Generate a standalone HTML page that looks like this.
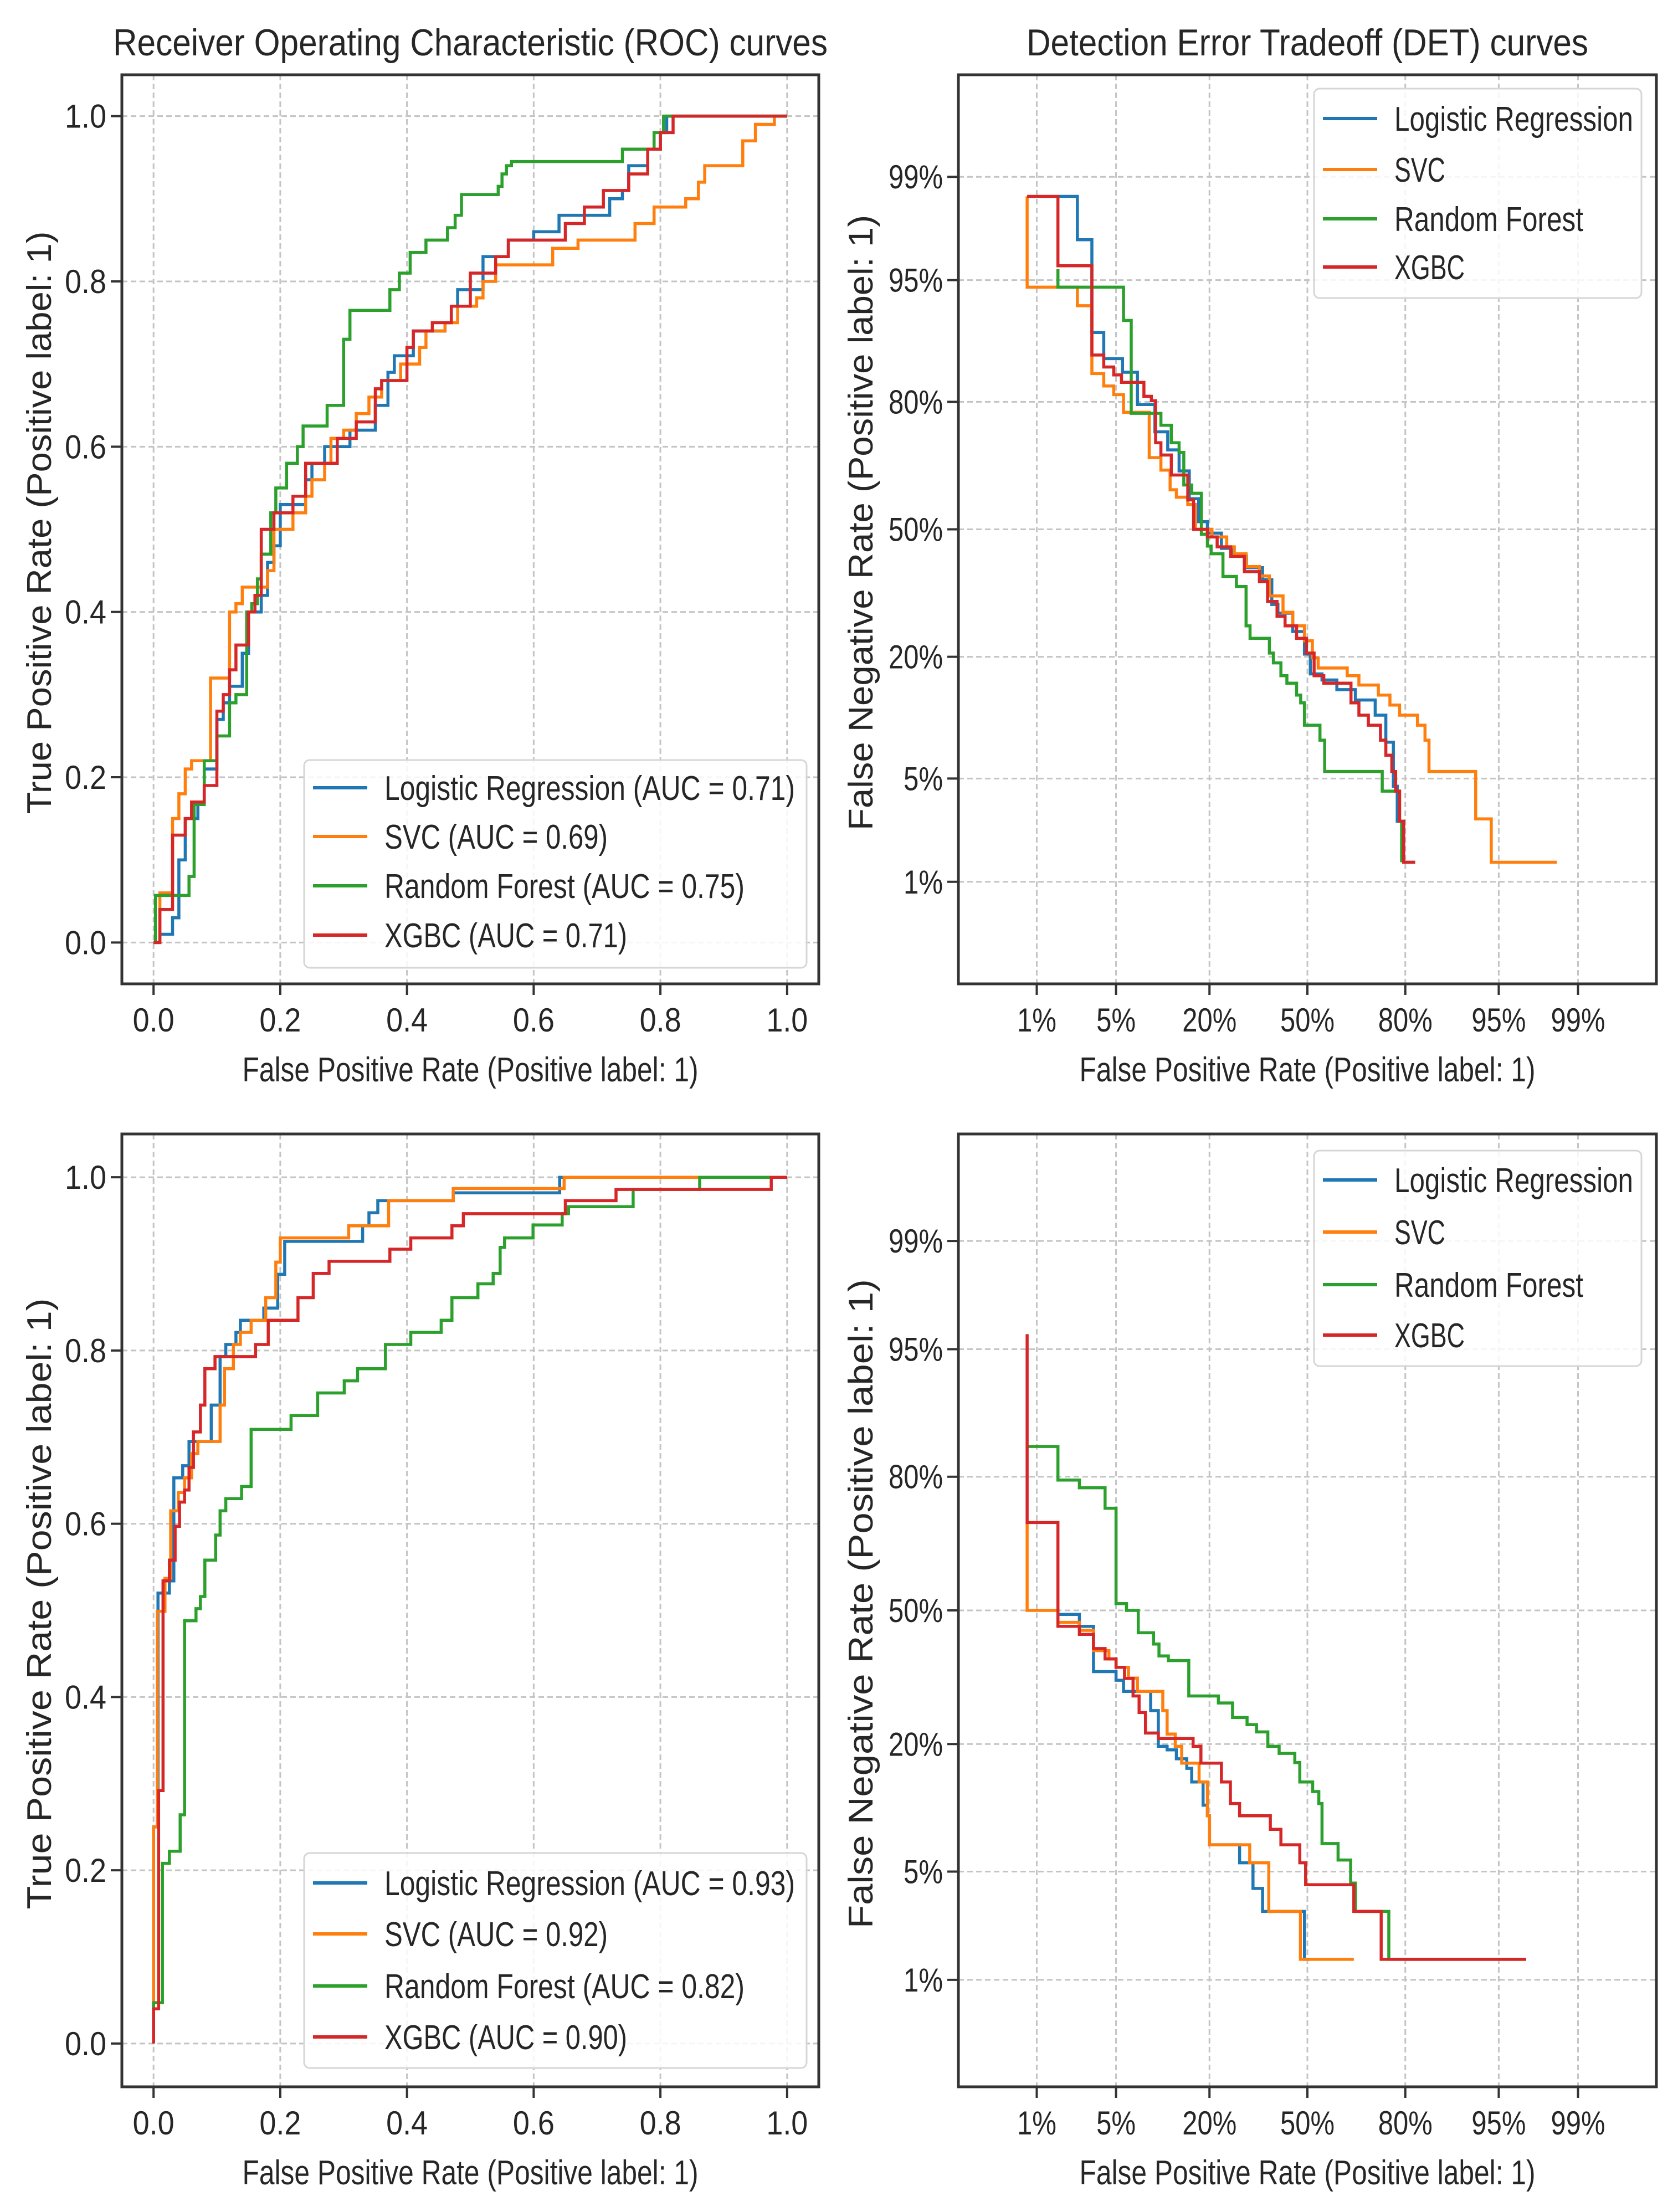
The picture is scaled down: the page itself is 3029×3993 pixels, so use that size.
<!DOCTYPE html>
<html><head><meta charset="utf-8"><style>
html,body{margin:0;padding:0;background:#fff;}
svg{display:block;}
text{font-family:"Liberation Sans","DejaVu Sans",sans-serif;fill:#262626;}
</style></head><body>
<svg id="fig" width="3029" height="3993" viewBox="0 0 3029 3993" xmlns="http://www.w3.org/2000/svg"></svg>
<script>
// ---------- data ----------
const seriesNames = ["Logistic Regression","SVC","Random Forest","XGBC"];
const seriesColors = ["#1f77b4","#ff7f0e","#2ca02c","#d62728"];
const aucTop = ["0.71","0.69","0.75","0.71"];
const aucBottom = ["0.93","0.92","0.82","0.90"];
const rocTicks = [0,0.2,0.4,0.6,0.8,1.0];
const rocTickLabels = ["0.0","0.2","0.4","0.6","0.8","1.0"];
const detTicks = [1,5,20,50,80,95,99];
const detTickLabels = ["1%","5%","20%","50%","80%","95%","99%"];

// ROC top (fpr, tpr) step vertices
const rocTopLR = [[0,0],[0.01,0],[0.01,0.01],[0.03,0.01],[0.03,0.03],[0.04,0.03],[0.04,0.1],[0.05,0.13],[0.05,0.15],[0.07,0.17],[0.08,0.21],[0.09,0.21],[0.1,0.22],[0.1,0.27],[0.11,0.27],[0.11,0.29],[0.12,0.31],[0.14,0.31],[0.14,0.35],[0.15,0.35],[0.15,0.4],[0.17,0.42],[0.18,0.46],[0.19,0.48],[0.2,0.49],[0.2,0.53],[0.23,0.53],[0.24,0.56],[0.25,0.58],[0.27,0.6],[0.3,0.6],[0.31,0.62],[0.34,0.62],[0.35,0.65],[0.37,0.69],[0.38,0.71],[0.4,0.71],[0.41,0.74],[0.44,0.74],[0.46,0.75],[0.47,0.77],[0.48,0.79],[0.5,0.79],[0.52,0.81],[0.52,0.83],[0.55,0.83],[0.56,0.85],[0.6,0.85],[0.6,0.86],[0.64,0.86],[0.64,0.88],[0.7,0.88],[0.72,0.9],[0.74,0.91],[0.75,0.94],[0.76,0.94],[0.78,0.96],[0.8,0.98],[0.81,1],[1,1]];
const rocTopSVC = [[0,0],[0.01,0.06],[0.03,0.06],[0.03,0.15],[0.04,0.18],[0.05,0.21],[0.06,0.22],[0.09,0.22],[0.09,0.32],[0.11,0.32],[0.12,0.36],[0.12,0.4],[0.13,0.41],[0.14,0.43],[0.16,0.43],[0.18,0.45],[0.19,0.45],[0.19,0.5],[0.21,0.5],[0.22,0.52],[0.24,0.54],[0.25,0.56],[0.27,0.58],[0.28,0.61],[0.3,0.62],[0.32,0.64],[0.34,0.66],[0.36,0.68],[0.39,0.7],[0.42,0.72],[0.43,0.74],[0.46,0.75],[0.48,0.77],[0.51,0.78],[0.52,0.8],[0.54,0.82],[0.63,0.82],[0.63,0.84],[0.67,0.84],[0.67,0.85],[0.76,0.85],[0.76,0.87],[0.79,0.87],[0.79,0.89],[0.84,0.89],[0.84,0.9],[0.86,0.9],[0.86,0.92],[0.87,0.94],[0.93,0.94],[0.93,0.97],[0.94,0.97],[0.95,0.99],[0.98,0.99],[0.98,1.0],[1,1]];
const rocTopRF = [[0,0],[0.003,0.057],[0.056,0.08],[0.064,0.167],[0.08,0.22],[0.1,0.25],[0.12,0.29],[0.13,0.3],[0.147,0.4],[0.155,0.41],[0.164,0.44],[0.17,0.47],[0.185,0.52],[0.193,0.55],[0.21,0.58],[0.227,0.6],[0.236,0.625],[0.274,0.65],[0.3,0.73],[0.31,0.765],[0.373,0.79],[0.388,0.81],[0.405,0.835],[0.43,0.85],[0.464,0.865],[0.476,0.88],[0.486,0.905],[0.544,0.915],[0.55,0.93],[0.557,0.94],[0.565,0.945],[0.74,0.96],[0.79,0.98],[0.805,1],[1,1]];
const rocTopXGB = [[0,0],[0.01,0],[0.01,0.04],[0.03,0.04],[0.03,0.13],[0.05,0.15],[0.06,0.15],[0.06,0.17],[0.08,0.17],[0.08,0.19],[0.1,0.19],[0.1,0.28],[0.11,0.28],[0.11,0.3],[0.12,0.3],[0.12,0.33],[0.13,0.33],[0.13,0.36],[0.15,0.36],[0.15,0.4],[0.16,0.4],[0.16,0.42],[0.17,0.42],[0.17,0.5],[0.19,0.5],[0.19,0.52],[0.22,0.52],[0.22,0.54],[0.24,0.54],[0.24,0.58],[0.29,0.58],[0.29,0.61],[0.32,0.61],[0.32,0.63],[0.35,0.63],[0.35,0.67],[0.36,0.68],[0.4,0.68],[0.4,0.72],[0.41,0.74],[0.44,0.74],[0.44,0.75],[0.46,0.75],[0.47,0.77],[0.5,0.77],[0.5,0.81],[0.54,0.81],[0.54,0.83],[0.56,0.83],[0.56,0.85],[0.65,0.85],[0.65,0.87],[0.68,0.87],[0.68,0.89],[0.71,0.89],[0.71,0.91],[0.75,0.91],[0.75,0.93],[0.78,0.93],[0.78,0.96],[0.8,0.96],[0.8,0.98],[0.82,0.98],[0.82,1.0],[1,1]];

// ROC bottom
const rocBotLR = [[0,0],[0,0.25],[0.007,0.52],[0.025,0.534],[0.032,0.653],[0.046,0.667],[0.056,0.695],[0.091,0.737],[0.105,0.793],[0.114,0.807],[0.13,0.821],[0.137,0.835],[0.174,0.849],[0.196,0.888],[0.207,0.926],[0.33,0.944],[0.34,0.959],[0.354,0.973],[0.473,0.982],[0.641,1.0],[1,1]];
const rocBotSVC = [[0,0],[0,0.25],[0.006,0.499],[0.018,0.537],[0.027,0.615],[0.039,0.636],[0.049,0.653],[0.06,0.681],[0.07,0.695],[0.105,0.737],[0.112,0.779],[0.126,0.807],[0.137,0.821],[0.154,0.835],[0.177,0.861],[0.193,0.902],[0.2,0.93],[0.308,0.944],[0.371,0.973],[0.473,0.987],[0.648,1],[1,1]];
const rocBotRF = [[0,0],[0,0.047],[0.014,0.208],[0.025,0.222],[0.042,0.264],[0.049,0.488],[0.067,0.502],[0.074,0.516],[0.081,0.558],[0.098,0.587],[0.105,0.615],[0.114,0.629],[0.139,0.643],[0.154,0.709],[0.217,0.725],[0.259,0.751],[0.301,0.765],[0.322,0.779],[0.366,0.807],[0.406,0.821],[0.454,0.835],[0.471,0.861],[0.512,0.877],[0.536,0.889],[0.547,0.919],[0.554,0.93],[0.599,0.945],[0.645,0.958],[0.655,0.966],[0.757,0.986],[0.862,1],[1,1]];
const rocBotXGB = [[0,0],[0,0.04],[0.008,0.292],[0.015,0.534],[0.025,0.558],[0.034,0.597],[0.041,0.625],[0.049,0.639],[0.056,0.665],[0.063,0.706],[0.074,0.737],[0.081,0.779],[0.097,0.793],[0.161,0.807],[0.181,0.835],[0.228,0.861],[0.252,0.889],[0.277,0.903],[0.373,0.917],[0.406,0.93],[0.471,0.944],[0.489,0.958],[0.65,0.973],[0.73,0.986],[0.975,1],[1,1]];

// DET top (fpr %, fnr %) step vertices: horizontal then vertical
const detTopLR = [[1.6,98.6],[2.4,97.2],[3.2,90.3],[4.0,87],[5.6,85],[7.2,79.5],[9.5,74],[11.5,70],[13.5,65],[15.5,58],[17.5,52],[19.5,49],[23,45],[26,43],[30,40],[35,37],[38,31],[40,29],[45,25],[49,20.5],[51,17],[55,16],[60,14.5],[66,13],[72,11],[75,8],[77,4.5],[78,2.7],[79.6,1.4],[82.3,1.4]];
const detTopSVC = [[0.8,98.6],[0.8,94.5],[2.4,93],[3.2,84.8],[4,82.8],[4.8,81.3],[5.7,78],[8.7,68.2],[10.4,65.2],[11.9,60.3],[13,58.4],[15.2,56.5],[16.8,50],[20.6,48],[24.4,45.4],[26.5,43.6],[29.9,40.3],[34,37.9],[37.2,33],[41.7,29.2],[45,26.2],[49,23.1],[51.7,19.8],[53.7,18],[63.4,16.7],[67.1,15.2],[72.9,13.7],[76.1,12.3],[78.6,11],[82.8,9.8],[84.4,8.2],[85.2,5.5],[92.6,2.8],[94.3,1.4],[98.4,1.4]];
const detTopRF = [[1.6,95.7],[1.6,94.5],[5.7,91.6],[6.5,77.8],[10.4,75.4],[12.1,71.6],[13.5,69.4],[14.4,61.5],[16,59.4],[18.1,48.7],[19.5,45.6],[20.4,43.6],[23.4,37.8],[27.1,35.3],[29.9,26.2],[31.1,23.6],[37.2,20.7],[38.5,18.9],[41,16.7],[43,15.5],[46.3,13.7],[47.7,12.6],[49,9.8],[54.3,8.2],[55.9,5.5],[74,4.2],[78.6,2.7],[79.1,1.4]];
const detTopXGB = [[0.8,98.6],[1.6,95.9],[3.2,87.5],[4.0,85.8],[4.8,84.6],[5.5,83.4],[8,81],[9,80.2],[9.6,71.6],[10.4,68.8],[12.1,64],[15.2,57.7],[16.4,50],[19.5,48],[21.9,45.4],[25.5,42.9],[29.4,39],[34,36.5],[36.6,31.7],[39.7,28.3],[42.4,26.2],[46.3,23.6],[49.7,20.7],[52.3,16.7],[55.6,15.5],[64.6,12.6],[67.1,11],[70,9.8],[73.5,8.2],[75,6.8],[76.6,5.5],[77.6,4.2],[78.6,2.7],[79.6,1.4],[82.3,1.4]];

// DET bottom
const detBotLR = [[1.6,49],[2.5,46],[3.3,35],[5,33],[5.7,30.5],[8.9,26.4],[10,19.6],[11.4,19],[13,17.5],[15,16],[16,14],[18.5,11],[19.5,9.8],[20,7],[28,5.6],[32,4],[35,2.9],[49,1.4],[51,1.4]];
const detBotSVC = [[0.8,71],[0.8,50],[1.6,47],[2.5,45],[3.3,40],[4.4,38],[5,36],[6.2,33.5],[7.2,30.5],[10.7,26.4],[11.4,21.8],[12.8,19.6],[14,16.8],[17.6,14],[19.5,9.8],[20,7],[31,5.6],[37,2.9],[47.6,1.4],[65.5,1.4]];
const detBotRF = [[0.8,84.9],[1.6,79.4],[2.5,78],[4.1,74],[5,51.7],[6,50],[7.3,44.4],[9.3,41.6],[10.1,38.7],[11.6,37.6],[15.4,29.5],[22.2,28],[26,25],[30.2,23.6],[33.1,22.2],[36.7,19.6],[40.4,18.4],[45.7,16.9],[47.4,14],[51.8,12.7],[53.9,11.2],[55,7.1],[60.4,5.8],[64.5,4.3],[66,2.9],[75.8,1.4],[97,1.4]];
const detBotXGB = [[0.8,95.9],[0.8,71],[1.6,46],[2.5,44],[3.3,40.5],[4.1,38],[5,36],[5.8,33.4],[6.7,29.5],[7.4,26],[8.2,22],[10,21],[16.3,19.6],[18,16.8],[23,14],[25.4,11.2],[28,9.8],[37.5,8.4],[41,7],[47.4,5.6],[49.4,4.2],[65.5,2.9],[73.7,1.4],[97,1.4]];

// ---------- helpers ----------
const NS = "http://www.w3.org/2000/svg";
const svg = document.getElementById("fig");
function mk(tag, attrs, parent){
  const e = document.createElementNS(NS, tag);
  for (const k in attrs) e.setAttribute(k, attrs[k]);
  (parent||svg).appendChild(e);
  return e;
}
function txt(str, attrs, parent){ const t = mk("text", attrs, parent); t.textContent = str; return t; }
// inverse normal CDF (Acklam)
function probit(p){
  const a=[-3.969683028665376e+01,2.209460984245205e+02,-2.759285104469687e+02,1.383577518672690e+02,-3.066479806614716e+01,2.506628277459239e+00];
  const b=[-5.447609879822406e+01,1.615858368580409e+02,-1.556989798598866e+02,6.680131188771972e+01,-1.328068155288572e+01];
  const c=[-7.784894002430293e-03,-3.223964580411365e-01,-2.400758277161838e+00,-2.549732539343734e+00,4.374664141464968e+00,2.938163982698783e+00];
  const d=[7.784695709041462e-03,3.224671290700398e-01,2.445134137142996e+00,3.754408661907416e+00];
  const pl=0.02425; let q,r;
  if(p<pl){q=Math.sqrt(-2*Math.log(p));return (((((c[0]*q+c[1])*q+c[2])*q+c[3])*q+c[4])*q+c[5])/((((d[0]*q+d[1])*q+d[2])*q+d[3])*q+1);}
  if(p>1-pl){q=Math.sqrt(-2*Math.log(1-p));return -(((((c[0]*q+c[1])*q+c[2])*q+c[3])*q+c[4])*q+c[5])/((((d[0]*q+d[1])*q+d[2])*q+d[3])*q+1);}
  q=p-0.5;r=q*q;return (((((a[0]*r+a[1])*r+a[2])*r+a[3])*r+a[4])*r+a[5])*q/(((((b[0]*r+b[1])*r+b[2])*r+b[3])*r+b[4])*r+1);
}

const panels = [
  {name:"roc-top", kind:"roc", l:220,r:1478,t:135,b:1776},
  {name:"det-top", kind:"det", l:1730,r:2990,t:135,b:1776},
  {name:"roc-bottom", kind:"roc", l:220,r:1478,t:2047,b:3767},
  {name:"det-bottom", kind:"det", l:1730,r:2990,t:2047,b:3767}
];
function sx(P,v){ return P.kind==="roc" ? P.l+(v+0.05)/1.1*(P.r-P.l) : P.l+(probit(v/100)+3)/6*(P.r-P.l); }
function sy(P,v){ return P.kind==="roc" ? P.b-(v+0.05)/1.1*(P.b-P.t) : P.b-(probit(v/100)+3)/6*(P.b-P.t); }
function labW(s){ return s.indexOf("%")>=0 ? (s.length-1)*27+44 : s.length*25; }

function drawPanel(P, series, legendLabels, box, ylabel){
  const g = mk("g", {});
  
  
  const ticks = P.kind==="roc" ? rocTicks : detTicks;
  const labels = P.kind==="roc" ? rocTickLabels : detTickLabels;
  ticks.forEach((tv,i)=>{
    const x = sx(P,tv), y = sy(P,tv);
    const gx = mk("line",{x1:x,y1:P.t,x2:x,y2:P.b,stroke:"#c4c4c4","stroke-width":3,"stroke-dasharray":"10,6"},g);
    
    
    const gy = mk("line",{x1:P.l,y1:y,x2:P.r,y2:y,stroke:"#c4c4c4","stroke-width":3,"stroke-dasharray":"10,6"},g);
    
    
    mk("line",{x1:x,y1:P.b,x2:x,y2:P.b+20,stroke:"#333","stroke-width":4},g);
    mk("line",{x1:P.l-20,y1:y,x2:P.l,y2:y,stroke:"#333","stroke-width":4},g);
    const w = labW(labels[i]);
    const xt = txt(labels[i],{x:x,y:P.b+86,"font-size":60,"text-anchor":"middle",textLength:w,lengthAdjust:"spacingAndGlyphs"},g);
    
    
    const yt = txt(labels[i],{x:P.l-28,y:y+21,"font-size":60,"text-anchor":"end",textLength:w,lengthAdjust:"spacingAndGlyphs"},g);
    
    
  });
  series.forEach((pts,si)=>{
    let d = "";
    pts.forEach((p,k)=>{
      const x = sx(P,p[0]), y = sy(P,p[1]);
      if(k===0){ d += "M"+x.toFixed(1)+","+y.toFixed(1); }
      else { d += " H"+x.toFixed(1)+" V"+y.toFixed(1); }
    });
    const path = mk("path",{d:d,fill:"none",stroke:seriesColors[si],"stroke-width":5.5,"stroke-linejoin":"miter"},g);
    
    
  });
  const fr = mk("rect",{x:P.l,y:P.t,width:P.r-P.l,height:P.b-P.t,fill:"none",stroke:"#333","stroke-width":5},g);
  
  
  const cx = (P.l+P.r)/2;
  const xl = txt("False Positive Rate (Positive label: 1)",{x:cx,y:P.b+176,"font-size":62,"text-anchor":"middle",textLength:823,lengthAdjust:"spacingAndGlyphs"},g);
  
  
  const yx = P.kind==="roc" ? 92 : 1575;
  const cy = (P.t+P.b)/2 - 12;
  const ylen = P.kind==="roc" ? (P.t<1000?1052:1103) : (P.t<1000?1111:1172);
  const yl = txt(ylabel,{x:yx,y:cy,"font-size":62,"text-anchor":"middle",transform:"rotate(-90 "+yx+" "+cy+")",textLength:ylen,lengthAdjust:"spacingAndGlyphs"},g);
  
  
  const lg = mk("g",{},g);
  
  
  mk("rect",{x:box.x,y:box.y,width:box.w,height:box.h,rx:10,fill:"#fff","fill-opacity":0.85,stroke:"#d6d6d6","stroke-width":3},lg);
  legendLabels.forEach((lab,i)=>{
    const yy = box.ey[i];
    const ln = mk("line",{x1:box.x+16,y1:yy,x2:box.x+114,y2:yy,stroke:seriesColors[i],"stroke-width":6},lg);
    
    
    const t = txt(lab.text,{x:box.x+145,y:yy+22,"font-size":62,textLength:lab.w,lengthAdjust:"spacingAndGlyphs"},lg);
    
    
  });
}

const rocLegW = [741,403,650,438];
const detLegW = [431,92,341,127];
const rocTopLab = seriesNames.map((n,i)=>({text:n+" (AUC = "+aucTop[i]+")", w:rocLegW[i]}));
const rocBotLab = seriesNames.map((n,i)=>({text:n+" (AUC = "+aucBottom[i]+")", w:rocLegW[i]}));
const detLab = seriesNames.map((n,i)=>({text:n, w:detLegW[i]}));

drawPanel(panels[0],[rocTopLR,rocTopSVC,rocTopRF,rocTopXGB],rocTopLab,{x:549,y:1372,w:907,h:375,ey:[1422,1510,1599,1688]},"True Positive Rate (Positive label: 1)");
drawPanel(panels[1],[detTopLR,detTopSVC,detTopRF,detTopXGB],detLab,{x:2372,y:160,w:591,h:378,ey:[214,306,395,482]},"False Negative Rate (Positive label: 1)");
drawPanel(panels[2],[rocBotLR,rocBotSVC,rocBotRF,rocBotXGB],rocBotLab,{x:549,y:3345,w:907,h:388,ey:[3399,3491,3585,3677]},"True Positive Rate (Positive label: 1)");
drawPanel(panels[3],[detBotLR,detBotSVC,detBotRF,detBotXGB],detLab,{x:2372,y:2077,w:591,h:389,ey:[2130,2224,2319,2410]},"False Negative Rate (Positive label: 1)");

const t1 = txt("Receiver Operating Characteristic (ROC) curves",{x:849,y:100,"font-size":68,"text-anchor":"middle",textLength:1290,lengthAdjust:"spacingAndGlyphs"});


const t2 = txt("Detection Error Tradeoff (DET) curves",{x:2360,y:100,"font-size":68,"text-anchor":"middle",textLength:1014,lengthAdjust:"spacingAndGlyphs"});


</script>
</body></html>
